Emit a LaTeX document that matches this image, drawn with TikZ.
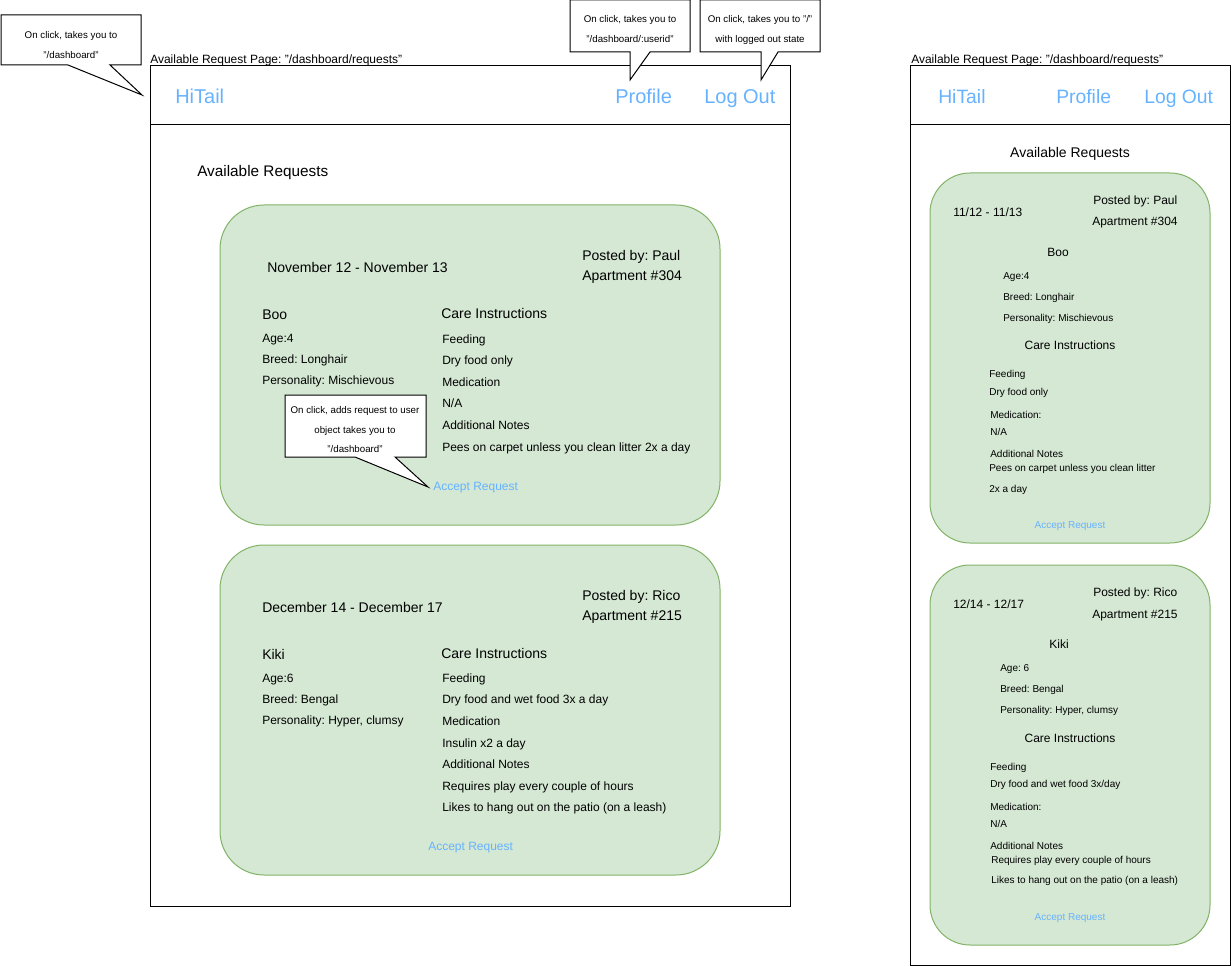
\documentclass[tikz,border=0pt]{standalone}
\usepackage{fontspec}
\setmainfont{Liberation Sans}
\frenchspacing
\definecolor{cardfill}{HTML}{D5E8D4}
\definecolor{cardline}{HTML}{82B366}
\definecolor{navblue}{HTML}{66B2FF}
\begin{document}
\begin{tikzpicture}[x=0.75pt,y=-0.75pt,
  lt/.style={anchor=west,inner sep=0pt,text height=.72em,text depth=.2em,yshift=-1.4pt},
  ct/.style={anchor=center,inner sep=0pt,text height=.72em,text depth=.2em,yshift=-1.4pt},
  fA/.style={font=\fontsize{9}{11}\selectfont},
  fB/.style={font=\fontsize{10.5}{12}\selectfont},
  fN/.style={font=\fontsize{15}{18}\selectfont,text=navblue,yshift=-1.8pt},
  fNs/.style={font=\fontsize{14.5}{17}\selectfont,text=navblue,yshift=-1.8pt},
  fS/.style={font=\fontsize{7.5}{9}\selectfont},
  fC/.style={font=\fontsize{7.3}{9}\selectfont},
  acc/.style={text=navblue},
  frame/.style={draw=black,line width=0.75pt},
  bigcard/.style={fill=cardfill,draw=cardline,line width=0.75pt,rounded corners=33pt},
  smallcard/.style={fill=cardfill,draw=cardline,line width=0.75pt,rounded corners=30pt},
  callout/.style={fill=white,draw=black,line width=0.75pt,line join=miter}]
\useasboundingbox (0,0) rectangle (1231,966);

% ---------------- left page ----------------
\node[lt,fA] (title1) at (150,58) {Available Request Page: "/dashboard/requests"};
\draw[frame] (150,66) rectangle (790,906);
\draw[frame] (150,125) -- (790,125);
\node[lt,fN] (hitail1) at (175,96) {HiTail};
\node[lt,fN] (profile1) at (615,96) {Profile};
\node[lt,fN] (logout1) at (704,96) {Log Out};
\node[lt,fB] (avail1) at (197,171) {\fontsize{11.5}{13}\selectfont Available Requests};

% callouts on nav
\draw[callout] (1,15) -- (141,15) -- (141,65) -- (110,65) -- (142,95) -- (68,65) -- (1,65) -- cycle;
\node[ct,fC] (c1a) at (71,33) {On click, takes you to};
\node[ct,fC] (c1b) at (71,53) {"/dashboard"};

\draw[callout] (570,0) -- (690,0) -- (690,52) -- (650,52) -- (630,80) -- (630,52) -- (570,52) -- cycle;
\node[ct,fC] (c2a) at (630,17) {On click, takes you to};
\node[ct,fC] (c2b) at (630,37) {"/dashboard/:userid"};

\draw[callout] (700,0) -- (820,0) -- (820,52) -- (778,52) -- (761,80) -- (761,52) -- (700,52) -- cycle;
\node[ct,fC] (c3a) at (760,17) {On click, takes you to "/"};
\node[ct,fC] (c3b) at (760,37) {with logged out state};

% card 1
\draw[bigcard] (220,205) rectangle (720,525);
\node[lt,fB] at (267,267) {November 12 - November 13};
\node[lt,fB] at (582,255) {Posted by: Paul};
\node[lt,fB] at (582,275) {Apartment \#304};
\node[lt,fB] at (262,314) {Boo};
\node[lt,fA] at (262,337) {Age:4};
\node[lt,fA] at (262,358) {Breed: Longhair};
\node[lt,fA] at (262,379) {Personality: Mischievous};
\node[lt,fB] at (441,313) {Care Instructions};
\node[lt,fA] at (442,338) {Feeding};
\node[lt,fA] at (442,359) {Dry food only};
\node[lt,fA] at (442,381) {Medication};
\node[lt,fA] at (442,402) {N/A};
\node[lt,fA] at (442,424) {Additional Notes};
\node[lt,fA] at (442,446) {Pees on carpet unless you clean litter 2x a day};
\node[lt,fA,acc] (accept1) at (433,485) {Accept Request};

\draw[callout] (285,395) -- (426,395) -- (426,457) -- (395,457) -- (428,487) -- (355,457) -- (285,457) -- cycle;
\node[ct,fC] at (355,408) {On click, adds request to user};
\node[ct,fC] at (355,428) {object takes you to};
\node[ct,fC] at (355,447) {"/dashboard"};

% card 2
\draw[bigcard] (220,545) rectangle (720,875);
\node[lt,fB] at (262,607) {December 14 - December 17};
\node[lt,fB] at (582,595) {Posted by: Rico};
\node[lt,fB] at (582,615) {Apartment \#215};
\node[lt,fB] at (262,654) {Kiki};
\node[lt,fA] at (262,677) {Age:6};
\node[lt,fA] at (262,698) {Breed: Bengal};
\node[lt,fA] at (262,719) {Personality: Hyper, clumsy};
\node[lt,fB] at (441,653) {Care Instructions};
\node[lt,fA] at (442,677) {Feeding};
\node[lt,fA] at (442,698) {Dry food and wet food 3x a day};
\node[lt,fA] at (442,720) {Medication};
\node[lt,fA] at (442,742) {Insulin x2 a day};
\node[lt,fA] at (442,763) {Additional Notes};
\node[lt,fA] at (442,785) {Requires play every couple of hours};
\node[lt,fA] at (442,806) {Likes to hang out on the patio (on a leash)};
\node[lt,fA,acc] (accept2) at (428,845) {Accept Request};

% ---------------- right page ----------------
\node[lt,fA] (title2) at (911,58) {Available Request Page: "/dashboard/requests"};
\draw[frame] (910,66) rectangle (1230,965);
\draw[frame] (910,125) -- (1230,125);
\node[lt,fNs] (hitail2) at (938,96) {HiTail};
\node[lt,fNs] (profile2) at (1056,96) {Profile};
\node[lt,fNs] (logout2) at (1144,96) {Log Out};
\node[ct,fB] (avail2) at (1070,152) {Available Requests};

% small card 1
\draw[smallcard] (930,173) rectangle (1210,543);
\node[lt,fA] at (953,211) {11/12 - 11/13};
\node[lt,fA] at (1093,199) {Posted by: Paul};
\node[lt,fA] at (1092,220) {Apartment \#304};
\node[ct,fA] at (1058,251) {Boo};
\node[lt,fS] at (1003,274) {Age:4};
\node[lt,fS] at (1003,295) {Breed: Longhair};
\node[lt,fS] at (1003,316) {Personality: Mischievous};
\node[ct,fA] at (1070,344) {Care Instructions};
\node[lt,fS] at (989,372) {Feeding};
\node[lt,fS] at (989,390) {Dry food only};
\node[lt,fS] at (990,413) {Medication:};
\node[lt,fS] at (990,430) {N/A};
\node[lt,fS] at (990,452) {Additional Notes};
\node[lt,fS] at (989,466) {Pees on carpet unless you clean litter};
\node[lt,fS] at (989,487) {2x a day};
\node[ct,fS,acc] (accept3) at (1070,523) {Accept Request};

% small card 2
\draw[smallcard] (930,565) rectangle (1210,945);
\node[lt,fA] at (953,603) {12/14 - 12/17};
\node[lt,fA] at (1093,591) {Posted by: Rico};
\node[lt,fA] at (1092,613) {Apartment \#215};
\node[ct,fA] at (1059,643) {Kiki};
\node[lt,fS] at (1000,666) {Age: 6};
\node[lt,fS] at (1000,687) {Breed: Bengal};
\node[lt,fS] at (1000,708) {Personality: Hyper, clumsy};
\node[ct,fA] at (1070,737) {Care Instructions};
\node[lt,fS] at (990,765) {Feeding};
\node[lt,fS] at (990,782) {Dry food and wet food 3x/day};
\node[lt,fS] at (990,805) {Medication:};
\node[lt,fS] at (990,822) {N/A};
\node[lt,fS] at (990,844) {Additional Notes};
\node[lt,fS] at (991,858) {Requires play every couple of hours};
\node[lt,fS] at (991,878) {Likes to hang out on the patio (on a leash)};
\node[ct,fS,acc] (accept4) at (1070,915) {Accept Request};
\end{tikzpicture}
\end{document}
